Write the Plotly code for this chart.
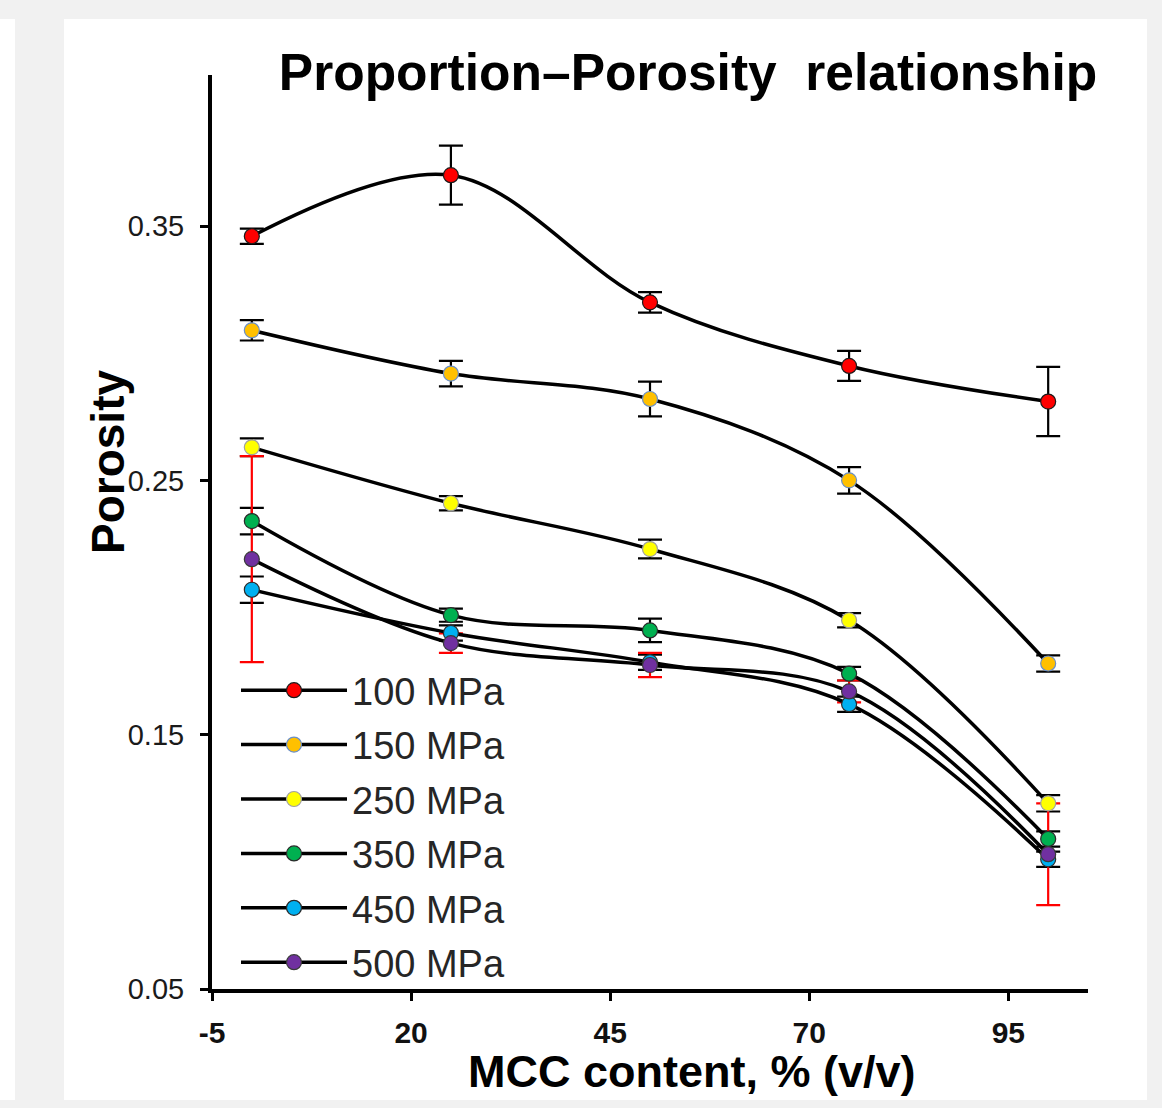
import plotly.graph_objects as go

# ---------------- data ----------------
mcc_content = [0, 25, 50, 75, 100]
series_names = ["100 MPa", "150 MPa", "250 MPa", "350 MPa", "450 MPa", "500 MPa"]

por_100 = [0.346, 0.370, 0.320, 0.295, 0.281]
err_100 = [0.003, 0.0116, 0.004, 0.0059, 0.0136]
por_150 = [0.309, 0.292, 0.282, 0.250, 0.178]
err_150 = [0.004, 0.005, 0.0068, 0.0052, 0.0032]
por_250 = [0.263, 0.241, 0.223, 0.195, 0.123]
err_250 = [0.0035, 0.0028, 0.0037, 0.0028, 0.0032]
por_350 = [0.234, 0.197, 0.191, 0.174, 0.109]
err_350 = [0.0052, 0.0026, 0.0046, 0.0027, 0.003]
por_450 = [0.207, 0.190, 0.1785, 0.162, 0.101]
err_450 = [0.0052, 0.003, 0.003, 0.003, 0.003]
por_500 = [0.219, 0.186, 0.1774, 0.167, 0.103]
err_500 = [0.0405, 0.0038, 0.0048, 0.0043, 0.020]

y_tick_vals = [0.05, 0.15, 0.25, 0.35]
y_tick_text = ["0.05", "0.15", "0.25", "0.35"]
x_tick_vals = [-5, 20, 45, 70, 95]
x_tick_text = ["-5", "20", "45", "70", "95"]

porosity = [por_100, por_150, por_250, por_350, por_450, por_500]
errors = [err_100, err_150, err_250, err_350, err_450, err_500]

# ---------------- styles ----------------
fill_colors = ["#FF0000", "#FFC000", "#FFFF00", "#00B050", "#00B0F0", "#7030A0"]
edge_colors = ["#1a1a1a", "#6a8fc8", "#a0a0a0", "#2a2a2a", "#2a2a2a", "#3a3a3a"]
err_colors = ["#000000", "#000000", "#000000", "#000000", "#000000", "#FF0000"]

W, H = 1162, 1108
L, R, T, B = 212, 1088, 75, 989  # plot area in px


def px_x(px):
    return (px - L) / (R - L)


def px_y(py):
    return (B - py) / (B - T)


fig = go.Figure()

# error bars first (behind lines and markers)
for name, ys, es, ec in zip(series_names, porosity, errors, err_colors):
    fig.add_trace(go.Scatter(
        x=mcc_content, y=ys, mode="markers",
        marker=dict(size=2, opacity=0),
        error_y=dict(type="data", array=es, color=ec, thickness=2.2, width=12),
        showlegend=False, hoverinfo="skip",
    ))

for name, ys, fc, ecl in zip(series_names, porosity, fill_colors, edge_colors):
    fig.add_trace(go.Scatter(
        x=mcc_content, y=ys, mode="lines+markers", name=name, legendgroup=name,
        line=dict(color="black", width=3.5, shape="spline", smoothing=1.0),
        marker=dict(size=15, color=fc, line=dict(color=ecl, width=1.2)),
    ))

font_main = "Liberation Sans, Arial, sans-serif"
font_narrow = "Liberation Sans Narrow, Arial Narrow, Liberation Sans, Arial, sans-serif"

fig.update_layout(
    width=W, height=H,
    margin=dict(l=L, r=W - R, t=T, b=H - B, autoexpand=False),
    paper_bgcolor="#f1f1f1",
    plot_bgcolor="white",
    title=dict(
        text="Proportion\u2013Porosity\u00a0 relationship",
        font=dict(family=font_main, size=51.5, color="black", weight="bold"),
        xref="paper", x=px_x(688), xanchor="center",
        yref="container", y=1 - 72 / H, yanchor="middle",
    ),
    xaxis=dict(
        range=[-5, 105], showline=True, linecolor="black", linewidth=4,
        ticks="outside", ticklen=8, tickwidth=3, tickcolor="black",
        tickvals=x_tick_vals, ticktext=x_tick_text,
        tickfont=dict(family=font_narrow, size=30, color="#111111", weight="bold"),
        showgrid=False, zeroline=False, ticklabelstandoff=6,
    ),
    yaxis=dict(
        range=[0.05, 0.4094], showline=True, linecolor="black", linewidth=4,
        ticks="outside", ticklen=8, tickwidth=3, tickcolor="black",
        tickvals=y_tick_vals, ticktext=y_tick_text,
        tickfont=dict(family=font_narrow, size=29, color="#1a1a1a"),
        showgrid=False, zeroline=False, ticklabelstandoff=10,
    ),
    legend=dict(
        x=px_x(236), y=px_y(659), xanchor="left", yanchor="top",
        bgcolor="rgba(0,0,0,0)", borderwidth=0,
        font=dict(family=font_main, size=38, color="#262626"),
        itemwidth=106, tracegroupgap=2, traceorder="grouped",
    ),
    shapes=[
        dict(type="rect", xref="paper", yref="paper", layer="below",
             x0=px_x(64), x1=px_x(1147), y0=px_y(1100), y1=px_y(19),
             fillcolor="white", line=dict(width=0)),
        dict(type="rect", xref="paper", yref="paper", layer="below",
             x0=px_x(0), x1=px_x(15), y0=px_y(1100), y1=px_y(19),
             fillcolor="white", line=dict(width=0)),
    ],
    annotations=[
        dict(text="MCC content, % (v/v)", xref="paper", yref="paper",
             x=px_x(692), y=px_y(1071), xanchor="center", yanchor="middle",
             showarrow=False,
             font=dict(family=font_main, size=45, color="black", weight="bold")),
        dict(text="Porosity", xref="paper", yref="paper", textangle=-90,
             x=px_x(108), y=px_y(462), xanchor="center", yanchor="middle",
             showarrow=False,
             font=dict(family=font_main, size=46, color="black", weight="bold")),
    ],
)

fig.write_html("out.html")
